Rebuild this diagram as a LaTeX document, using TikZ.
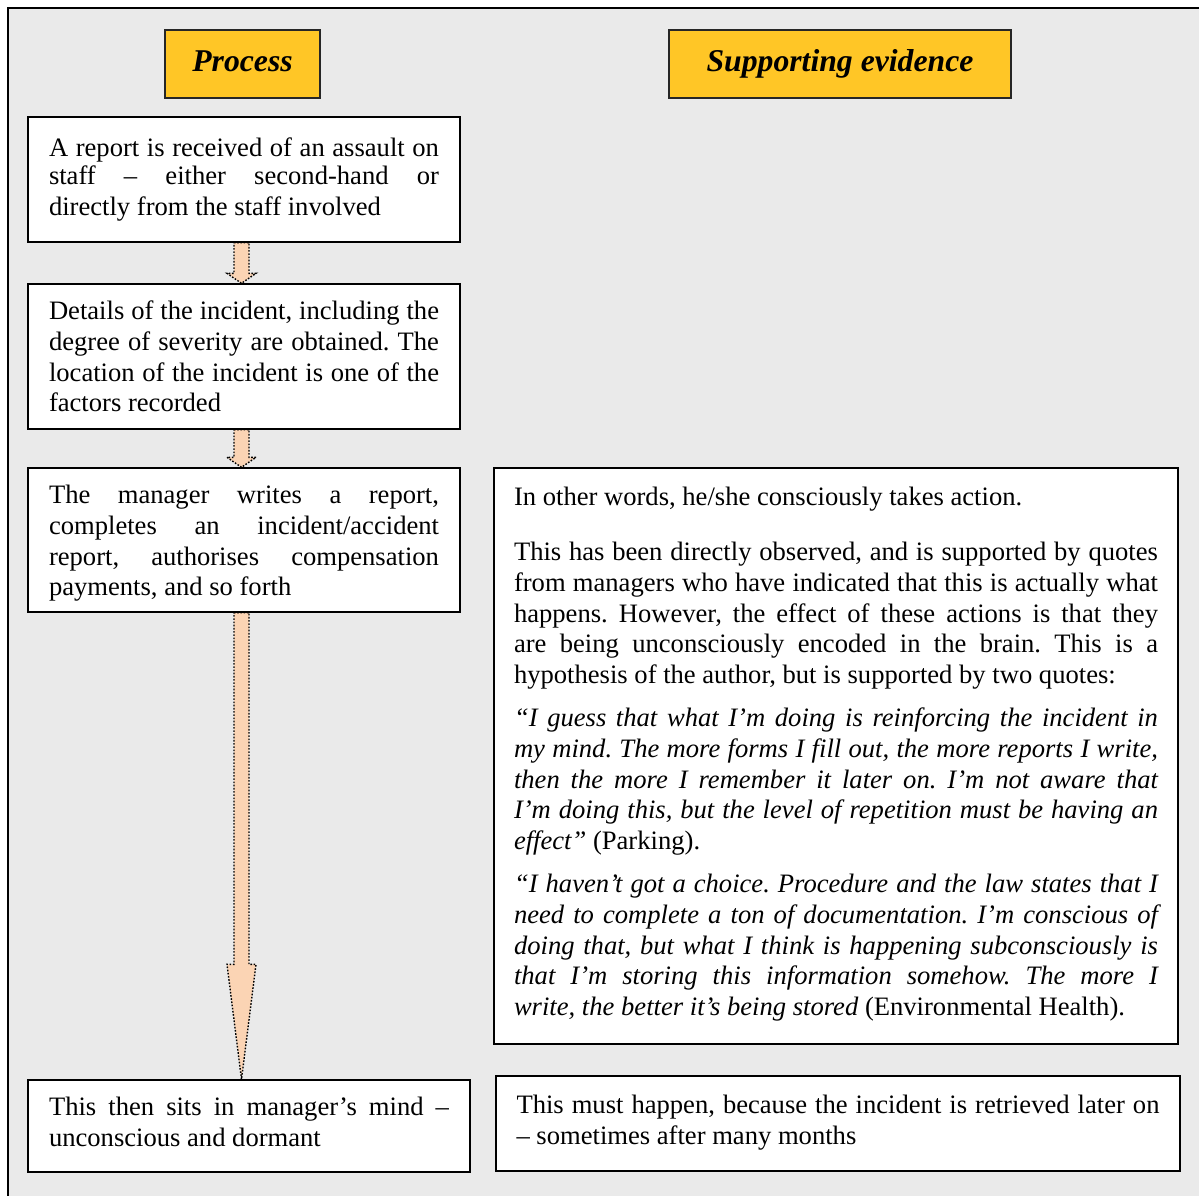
\documentclass[tikz,border=0pt]{standalone}
\usepackage{fontspec}
\setmainfont{Liberation Serif}
\usetikzlibrary{calc}
\frenchspacing

\definecolor{panelgray}{RGB}{234,234,234}
\definecolor{headgold}{RGB}{255,198,38}
\definecolor{peach}{RGB}{251,212,180}

\tikzset{
  textbox/.style={draw=black, line width=1.4pt, fill=white, inner sep=0pt,
    align=justify, font=\fontsize{26.6pt}{30.7pt}\selectfont},
  headbox/.style={draw=black!85, line width=1.5pt, fill=headgold, inner sep=0pt,
    text height=22pt, text depth=7pt,
    font=\fontsize{31.7pt}{36pt}\selectfont\bfseries\itshape},
  flowarrow/.style={fill=peach, draw=black, line width=1.4pt,
    dash pattern=on 1.6pt off 1.6pt, line join=miter}
}

% block arrow: start anchor, end anchor (only its height is used), head length
\newcommand\blockarrow[3]{%
  \filldraw[flowarrow] let \p1=(#1), \p2=(#2) in
    (\x1-7.5pt,\y1) -- (\x1+7.5pt,\y1) -- (\x1+7.5pt,\y2+#3) -- (\x1+14.5pt,\y2+#3)
    -- (\x1,\y2) -- (\x1-14.5pt,\y2+#3) -- (\x1-7.5pt,\y2+#3) -- cycle;}

\begin{document}
\begin{tikzpicture}[x=1pt,y=-1pt]
  \useasboundingbox (0,0) rectangle (1199,1196);
  \fill[white] (0,0) rectangle (1199,1196);
  \fill[panelgray] (8,8) rectangle (1199,1196);
  \draw[line width=2.6pt] (8,1196) -- (8,8) -- (1199,8);

  % column headings
  \node[headbox, minimum width=155pt, minimum height=68pt] (hproc) at (242.5,64) {Process};
  \node[headbox, minimum width=342pt, minimum height=68pt] (hevid) at (840,64) {Supporting evidence};

  % process column
  \node[textbox, minimum width=432pt, minimum height=125pt, text width=390pt] (s1) at (244,179.5)
    {\vspace*{-3pt}A report is received of an assault on\linebreak staff -- either second-hand or\linebreak directly from the staff involved};
  \node[textbox, minimum width=432pt, minimum height=145pt, text width=390pt] (s2) at (244,356.5)
    {Details of the incident, including the\linebreak degree of severity are obtained. The\linebreak location of the incident is one of the\linebreak factors recorded};
  \node[textbox, minimum width=432pt, minimum height=144pt, text width=390pt] (s3) at (244,540)
    {The manager writes a report,\linebreak completes an incident/accident\linebreak report, authorises compensation\linebreak payments, and so forth\vspace*{-7pt}};
  \node[textbox, minimum width=442pt, minimum height=92pt, text width=400pt] (s4) at (249,1126)
    {This then sits in manager’s mind --\linebreak unconscious and dormant\vspace*{8pt}};

  % evidence column
  \node[textbox, minimum width=684pt, minimum height=576pt, text width=644pt] (e3) at (836,756)
    {\setlength{\parskip}{12.5pt}\setlength{\parindent}{0pt}%
     In other words, he/she consciously takes action.\par\vspace{12pt}
     This has been directly observed, and is supported by quotes\linebreak from managers who have indicated that this is actually what\linebreak happens. However, the effect of these actions is that they\linebreak are being unconsciously encoded in the brain. This is a\linebreak hypothesis of the author, but is supported by two quotes:\par
     \textit{“I guess that what I’m doing is reinforcing the incident in\linebreak my mind. The more forms I fill out, the more reports I write,\linebreak then the more I remember it later on. I’m not aware that\linebreak I’m doing this, but the level of repetition must be having an\linebreak effect”} (Parking).\par
     \textit{“I haven’t got a choice. Procedure and the law states that I\linebreak need to complete a ton of documentation. I’m conscious of\linebreak doing that, but what I think is happening subconsciously is\linebreak that I’m storing this information somehow. The more I\linebreak write, the better it’s being stored} (Environmental Health).\vspace*{4pt}};
  \node[textbox, minimum width=684pt, minimum height=95pt, text width=643pt] (e4) at (838,1123.5)
    {This must happen, because the incident is retrieved later on\linebreak -- sometimes after many months\vspace*{2pt}};

  % flow arrows
  \blockarrow{[xshift=-2.5pt]s1.south}{s2.north}{10pt}
  \blockarrow{[xshift=-2.5pt]s2.south}{s3.north}{10pt}
  \blockarrow{[xshift=-2.5pt]s3.south}{s4.north}{115pt}

  % redraw box edges over the arrow ends
  \foreach \b in {s1,s2,s3,s4}{\draw[line width=1.4pt] (\b.south west) rectangle (\b.north east);}
\end{tikzpicture}
\end{document}
